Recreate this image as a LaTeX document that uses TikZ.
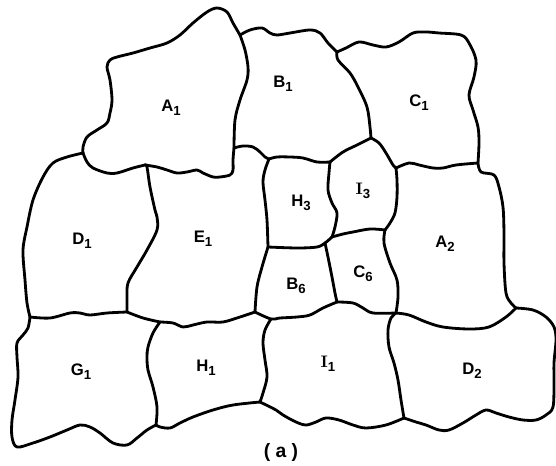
\documentclass[tikz,border=0pt]{standalone}
\usepackage{fontspec}
\setsansfont{Liberation Sans}
\usepackage{tikz}

\tikzset{
  border/.style={black, line width=1.6pt, line join=round, line cap=round},
  lab/.style={font=\sffamily\bfseries\fontsize{9.5}{11}\selectfont, inner sep=0pt}
}
\newcommand{\rim}[1]{\draw[border] plot[smooth, tension=0.55] coordinates {#1};}
\newcommand{\sub}[1]{\raisebox{-0.45ex}{\fontsize{7.5}{8}\selectfont #1}}

\begin{document}
\begin{tikzpicture}[x=0.02cm, y=-0.02cm]
	\useasboundingbox (0,0) rectangle (556,466);

	% junctions
	\coordinate (jA) at (83,153);
	\coordinate (jAB) at (240,35);
	\coordinate (jABE) at (234,148);
	\coordinate (jDE) at (145,165);
	\coordinate (jBC) at (337,52);
	\coordinate (jBE) at (269,159);
	\coordinate (jHI) at (330,162);
	\coordinate (jBCI) at (371,138);
	\coordinate (jCA) at (396,168);
	\coordinate (jCR) at (478,163);
	\coordinate (jDG) at (30,317);
	\coordinate (jDEG) at (127,312);
	\coordinate (jGH) at (160,322);
	\coordinate (jEB) at (255,312);
	\coordinate (jHI1) at (271,319);
	\coordinate (jEH) at (268,247);
	\coordinate (jHIm) at (332,237);
	\coordinate (jBCm) at (325,243);
	\coordinate (jIC) at (385,230);
	\coordinate (jBC6) at (337,302);
	\coordinate (jCD) at (396,313);
	\coordinate (jAD) at (516,308);
	\coordinate (jGHb) at (156,425);
	\coordinate (jHIb) at (260,402);
	\coordinate (jIDb) at (404,418);

	% A1
	\rim{(jA) (83,147) (87,137) (97,130) (107,123) (110,113) (112,100) (110,80) (107,67) (110,60) (117,57) (133,53) (150,48) (167,43) (180,35) (193,23) (207,12) (217,8) (227,12) (233,23) (jAB)}
	\rim{(jAB) (245,50) (248,67) (247,80) (240,100) (235,120) (jABE)}
	\rim{(jABE) (233,160) (233,170) (230,175) (220,177) (213,177) (203,173) (197,170) (187,172) (177,173) (167,170) (157,167) (jDE)}
	\rim{(jDE) (133,168) (117,173) (107,173) (93,168) (87,162) (jA)}
	% D1, E1
	\rim{(jA) (67,157) (53,163) (43,177) (33,200) (27,227) (23,250) (25,280) (27,303) (jDG)}
	\rim{(jDE) (147,167) (150,187) (155,210) (157,217) (157,230) (147,250) (137,267) (128,283) (127,297) (jDEG)}
	\rim{(jDG) (50,318) (70,313) (80,313) (90,315) (107,313) (jDEG)}
	\rim{(jDEG) (143,318) (jGH)}
	\rim{(jGH) (173,323) (183,327) (193,325) (207,322) (223,322) (240,317) (jEB)}
	\rim{(jBE) (265,170) (263,182) (265,200) (267,220) (jEH)}
	\rim{(jEH) (262,267) (257,287) (jEB)}
	% B1, C1
	\rim{(jABE) (243,146) (253,147) (260,152) (265,157) (jBE)}
	\rim{(jAB) (250,30) (262,28) (270,33) (277,35) (290,33) (310,30) (320,33) (328,43) (jBC)}
	\rim{(jBC) (346,48) (359,42) (373,45) (386,47) (399,42) (413,33) (426,32) (439,33) (461,35) (469,43) (476,60) (474,77) (469,95) (473,110) (478,127) (479,143) (jCR)}
	\rim{(jBC) (338,60) (350,73) (358,87) (367,107) (370,127) (jBCI)}
	\rim{(jBCI) (357,145) (343,152) (jHI)}
	\rim{(jHI) (317,162) (303,158) (290,157) (277,157) (jBE)}
	\rim{(jBCI) (379,143) (386,153) (393,165) (jCA)}
	\rim{(jCA) (409,163) (419,165) (433,168) (443,168) (456,165) (jCR)}
	% A2, D2
	\rim{(jCR) (481,172) (494,175) (499,187) (503,207) (504,233) (504,263) (506,293) (511,303) (jAD)}
	\rim{(jAD) (533,310) (546,317) (554,327) (556,340) (554,363) (554,383) (553,407) (546,415) (536,420) (523,420) (509,417) (496,413) (486,410) (476,415) (463,423) (449,430) (439,430) (426,425) (416,422) (jIDb)}
	\rim{(jCD) (409,315) (426,322) (443,327) (469,329) (489,327) (506,317) (jAD)}
	\rim{(jCD) (391,318) (388,330) (389,347) (394,363) (398,380) (401,400) (jIDb)}
	% H3, I3, B6, C6
	\rim{(jCA) (397,180) (397,197) (395,213) (390,223) (jIC)}
	\rim{(jIC) (384,243) (390,263) (397,280) (398,297) (jCD)}
	\rim{(jHI) (329,173) (328,190) (332,203) (337,213) (335,227) (jHIm)}
	\rim{(jHIm) (343,234) (353,232) (370,229) (jIC)}
	\rim{(jEH) (297,248) (317,247) (jBCm) (jHIm)}
	\rim{(jBCm) (328,257) (332,277) (335,293) (jBC6)}
	\rim{(jEB) (jHI1) (280,318) (297,317) (310,315) (323,308) (jBC6)}
	\rim{(jBC6) (353,303) (363,308) (373,313) (jCD)}
	% bottom row
	\rim{(jHI1) (265,330) (263,343) (265,360) (267,377) (263,393) (jHIb)}
	\rim{(jGH) (153,333) (148,347) (147,357) (148,370) (153,387) (157,407) (jGHb)}
	\rim{(jIDb) (386,425) (366,428) (353,425) (339,420) (326,418) (316,422) (306,425) (296,422) (283,415) (276,410) (jHIb)}
	\rim{(jHIb) (233,405) (213,410) (193,417) (180,423) (170,428) (160,427) (jGHb)}
	\rim{(jGHb) (147,430) (137,438) (127,445) (113,443) (100,433) (90,427) (80,425) (67,430) (50,437) (33,443) (17,447) (12,437) (12,420) (15,400) (18,377) (17,357) (17,343) (23,335) (28,328) (jDG)}

	% labels
	\node[lab] (A1) at (171,108) {A\sub{1}};
	\node[lab] (B1) at (283,84) {B\sub{1}};
	\node[lab] (C1) at (419,103) {C\sub{1}};
	\node[lab] (D1) at (82,241) {D\sub{1}};
	\node[lab] (E1) at (203,239) {E\sub{1}};
	\node[lab] (H3) at (301,203) {H\sub{3}};
	\node[lab] (I3) at (363,191) {\textrm{I}\sub{3}};
	\node[lab] (A2) at (445,244) {A\sub{2}};
	\node[lab] (B6) at (296,286) {B\sub{6}};
	\node[lab] (C6) at (363,274) {C\sub{6}};
	\node[lab] (G1) at (81,372) {G\sub{1}};
	\node[lab] (H1) at (206,368) {H\sub{1}};
	\node[lab] (I1) at (328,364) {\textrm{I}\sub{1}};
	\node[lab] (D2) at (472,371) {D\sub{2}};
	\node[lab, font=\sffamily\bfseries\fontsize{11}{13}\selectfont] (cap) at (281,453) {( a )};
\end{tikzpicture}
\end{document}
